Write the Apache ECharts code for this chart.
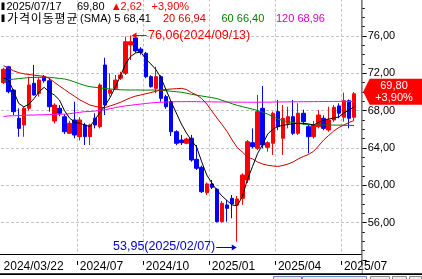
<!DOCTYPE html>
<html>
<head>
<meta charset="utf-8">
<script src="https://cdn.jsdelivr.net/npm/echarts@6/dist/echarts.min.js"></script>
<style>
html,body{margin:0;padding:0;background:#fff;overflow:hidden}
#c{width:422px;height:279px}
</style>
</head>
<body>
<div id="c"></div>
<script>
// Weekly candles (last bar dated 2025/07/17)
const dates = ['2024/03/22','2024/03/29','2024/04/05','2024/04/12','2024/04/19','2024/04/26','2024/05/03','2024/05/10','2024/05/17','2024/05/24',
'2024/05/31','2024/06/07','2024/06/14','2024/06/21','2024/06/28','2024/07/05','2024/07/12','2024/07/19','2024/07/26','2024/08/02',
'2024/08/09','2024/08/16','2024/08/23','2024/08/30','2024/09/06','2024/09/13','2024/09/20','2024/09/27','2024/10/04','2024/10/11',
'2024/10/18','2024/10/25','2024/11/01','2024/11/08','2024/11/15','2024/11/22','2024/11/29','2024/12/06','2024/12/13','2024/12/20',
'2024/12/27','2025/01/03','2025/01/10','2025/01/17','2025/01/24','2025/01/31','2025/02/07','2025/02/14','2025/02/21','2025/02/28',
'2025/03/07','2025/03/14','2025/03/21','2025/03/28','2025/04/04','2025/04/11','2025/04/18','2025/04/25','2025/05/02','2025/05/09',
'2025/05/16','2025/05/23','2025/05/30','2025/06/06','2025/06/13','2025/06/20','2025/06/27','2025/07/04','2025/07/11','2025/07/17'];

const opens = [71.0,72.7,70.2,67.18,66.46,68.25,70.93,69.86,71.64,71.2,
66.89,68.25,67.35,65.57,67.0,65.21,66.46,65.21,67.18,66.28,
72.89,69.86,70.39,71.47,72.0,75.04,75.8,74.6,74.15,71.64,
70.39,71.64,69.5,68.96,65.74,64.85,64.5,65.04,62.78,61.93,
59.2,60.14,59.57,56.1,57.89,58.6,57.89,58.6,60.57,64.56,
63.96,68.25,64.07,64.5,67.89,65.04,66.64,67.35,65.57,67.72,
66.28,65.21,66.28,67.18,65.93,67.0,68.5,67.29,69.07,67.29];

const closes = [72.43,70.03,67.89,66.1,68.25,70.75,69.68,71.28,71.2,68.42,
68.6,67.72,65.74,66.64,65.39,67.0,65.21,66.46,66.46,70.75,
68.6,70.21,71.28,71.82,75.39,75.39,74.4,74.25,71.64,70.57,
71.64,69.32,68.42,65.74,64.5,64.56,64.96,62.71,61.82,59.31,
60.14,59.78,56.1,58.07,57.53,57.99,58.53,61.1,64.67,64.14,
67.89,64.32,64.56,67.72,66.28,67.18,67.35,65.57,67.72,66.82,
65.21,66.46,67.53,66.1,67.0,68.36,67.72,69.07,67.18,69.80];

const lows = [70.85,69.86,67.53,65.2,65.2,68.0,69.6,69.5,71.0,67.89,
66.64,67.4,65.5,65.5,65.04,64.8,64.32,64.32,66.1,66.1,
67.53,69.5,70.2,71.28,71.82,73.43,74.2,74.0,71.47,70.46,
69.86,68.96,68.2,65.28,64.3,64.32,64.4,62.53,61.64,59.17,
58.96,59.6,56.0,56.0,56.1,56.46,53.95,57.9,60.25,63.96,
63.78,63.96,63.6,63.25,65.9,63.25,66.1,65.39,65.39,66.5,
63.43,65.0,66.1,65.9,65.74,66.8,67.18,66.82,66.1,67.0];

const highs = [72.6,72.8,70.3,68.25,68.4,71.64,72.9,71.6,71.82,71.5,
68.79,68.6,67.6,66.9,68.96,67.3,66.7,66.6,67.72,70.93,
73.67,72.0,71.82,72.17,75.93,76.06,76.0,74.8,74.3,71.8,
72.7,71.8,69.7,69.1,65.9,65.39,65.1,65.4,64.32,62.1,
60.3,60.57,59.7,58.3,58.42,58.96,58.85,61.28,64.85,66.1,
69.68,70.64,64.7,67.9,69.14,68.6,68.42,69.14,68.79,68.1,
66.5,66.9,68.07,67.5,68.42,68.6,68.79,69.93,69.2,70.0];

const ma5 = [71.5,71.28,70.05,68.77,68.4,68.7,69.29,70.02,70.5,70.0,
69.68,69.14,68.0,67.2,66.76,66.65,66.47,66.29,67.05,67.82,
68.55,69.43,70.53,71.69,73.0,73.8,74.18,74.3,73.53,73.0,
72.4,71.5,70.23,68.93,67.75,66.57,65.6,64.8,64.1,62.53,
61.1,60.24,59.46,58.85,58.36,57.89,57.8,58.8,60.6,62.0,
63.4,64.37,65.5,66.0,66.3,66.43,66.51,66.61,66.64,66.64,
66.58,66.46,66.73,67.0,67.1,67.21,67.32,67.75,68.07,68.41];

const ma20 = [72.82,72.54,72.27,72.07,71.95,71.87,71.81,71.74,71.68,71.46,
71.04,70.64,70.27,69.89,69.53,69.16,68.88,68.6,68.47,68.34,
68.33,68.5,68.69,68.89,69.14,69.38,69.56,69.68,69.81,69.94,
70.08,70.21,70.27,70.32,70.35,70.39,70.27,69.94,69.68,69.3,
68.71,67.96,67.21,66.51,65.76,64.85,64.05,63.57,63.03,62.82,
62.5,62.28,62.14,62.07,62.02,62.12,62.28,62.5,62.82,63.08,
63.3,63.62,64.21,64.85,65.34,65.82,66.19,66.46,66.73,66.94];

const ma60 = [71.23,71.31,71.38,71.43,71.49,71.54,71.57,71.57,71.57,71.57,
71.52,71.46,71.39,71.26,71.07,70.88,70.7,70.57,70.5,70.43,
70.37,70.32,70.27,70.24,70.22,70.21,70.22,70.21,70.2,70.21,
70.21,70.18,70.14,70.08,70.03,69.97,69.87,69.76,69.66,69.57,
69.48,69.4,69.29,69.11,68.93,68.74,68.57,68.43,68.3,68.16,
68.02,67.83,67.63,67.37,67.1,66.94,66.81,66.72,66.63,66.55,
66.48,66.46,66.46,66.46,66.46,66.45,66.45,66.44,66.42,66.40];

const ma120 = [67.38,67.43,67.45,67.47,67.5,67.52,67.53,67.55,67.56,67.58,
67.6,67.61,67.62,67.67,67.75,67.82,67.89,67.91,67.96,68.03,
68.11,68.21,68.32,68.43,68.51,68.57,68.65,68.7,68.77,68.82,
68.87,68.9,68.93,68.94,68.96,68.96,68.97,68.97,68.96,68.95,
68.95,68.94,68.93,68.93,68.92,68.92,68.91,68.91,68.9,68.9,
68.9,68.91,68.91,68.92,68.93,68.93,68.94,68.95,68.95,68.96,
68.96,68.97,68.97,68.98,68.98,68.99,68.99,69.0,68.98,68.96];

const xTickIdx = [0, 15, 28, 41, 54, 67];
const xTickLabels = ['2024/03/22', '2024/07', '2024/10', '2025/01', '2025/04', '2025/07'];
const maNames = ['5', '20', '60', '120'];
const maColors = ['#000000', '#cc0000', '#008000', '#ff00ff'];
const maTextColors = ['#000000', '#e00000', '#008000', '#d000d0'];
const legendTitle = '가격이동평균';

const FONT = "'Liberation Sans', Arial, sans-serif";
const KFONT = "'Noto Sans CJK KR', sans-serif";
const fmt = v => v.toFixed(2).replace('.', ',');
const N = dates.length;
const cats = dates.concat(['']);
const candle = dates.map((d, i) => [opens[i], closes[i], lows[i], highs[i]]);
const tickSet = new Set(xTickIdx);

const chart = echarts.init(document.getElementById('c'), null, {renderer: 'canvas', width: 422, height: 279});

const mas = [ma5, ma20, ma60, ma120];
const lineSeries = [3, 2, 1, 0].map(k => ({
  type: 'line', data: mas[k], showSymbol: false, symbol: 'none', silent: true,
  lineStyle: {color: maColors[k], width: 1}, itemStyle: {color: maColors[k]}, z: 3
}));

chart.setOption({
  animation: false,
  backgroundColor: '#ffffff',
  grid: {left: 1, right: 60.3, top: -1.3, bottom: 19.1, containLabel: false, outerBoundsMode: 'none'},
  xAxis: {
    type: 'category', data: cats, boundaryGap: true,
    axisLine: {show: false},
    axisTick: {show: true, alignWithLabel: false, interval: (i) => i > 0 && tickSet.has(i), length: 5, lineStyle: {color: '#000'}},
    axisLabel: {show: true, interval: (i) => tickSet.has(i), formatter: (v, i) => xTickLabels[xTickIdx.indexOf(i)],
      align: 'left', margin: 1, color: '#000', fontFamily: FONT, fontSize: 12, hideOverlap: false},
    splitLine: {show: true, interval: (i) => i > 0 && tickSet.has(i), lineStyle: {color: '#c4c4c4', type: [3, 2], width: 1}}
  },
  yAxis: {
    type: 'value', position: 'right', min: 52, max: 80, interval: 4,
    axisLine: {show: true, lineStyle: {color: '#808080'}},
    axisTick: {show: true, length: 5, lineStyle: {color: '#000'}},
    minorTick: {show: true, splitNumber: 4, length: 3, lineStyle: {color: '#000'}},
    axisLabel: {margin: 6, color: '#000', fontFamily: FONT, fontSize: 11, formatter: v => (v <= 52 || v >= 80) ? '' : fmt(v)},
    splitLine: {show: true, showMinLine: false, showMaxLine: false, lineStyle: {color: '#c4c4c4', type: [3, 2], width: 1}}
  },
  series: [{
    type: 'candlestick', data: candle, barWidth: 4, silent: true, z: 2,
    itemStyle: {color: '#ff0000', color0: '#0000ff', borderColor: '#ff0000', borderColor0: '#0000ff', borderWidth: 1}
  }].concat(lineSeries)
});

// overlays positioned through the chart's own scales
const px = (i, v) => chart.convertToPixel({xAxisIndex: 0, yAxisIndex: 0}, [i, v]);
const axisX = 361.7;
const g = [];
const txt = (text, x, y, fill, size, align, family) => ({
  type: 'text', z: 20, silent: true,
  style: {text: text, x: x, y: y, fill: fill, font: size + 'px ' + (family || FONT),
    align: align || 'left', verticalAlign: 'middle', textAlign: align || 'left', textVerticalAlign: 'middle'}
});

g.push({type: 'rect', z: 1, silent: true, shape: {x: 0, y: 254.5, width: axisX - 0.5, height: 6.5}, style: {fill: '#fff'}});
g.push({type: 'line', z: 10, silent: true, shape: {x1: 0, y1: 254.5, x2: axisX, y2: 254.5}, style: {stroke: '#000', lineWidth: 1}});
g.push({type: 'line', z: 10, silent: true, shape: {x1: axisX + 0.5, y1: 0, x2: axisX + 0.5, y2: 274}, style: {stroke: '#808080', lineWidth: 1}});
g.push({type: 'rect', z: 10, silent: true, shape: {x: 0, y: 273.2, width: 422, height: 1.8}, style: {fill: '#000'}});
[[273, 29, '#6b86b8'], [302, 65, '#6b86b8'], [370, 20, '#888'], [392, 15, '#888'], [409, 13, '#888']].forEach(b => {
  g.push({type: 'rect', z: 10, silent: true, shape: {x: b[0] + 0.5, y: 276.5, width: b[1] - 1, height: 4}, style: {fill: '#ececec', stroke: b[2], lineWidth: 1}});
});

// legend lines
const last = closes[N - 1], prev = closes[N - 2];
const chg = last - prev, pct = chg / prev * 100;
g.push({type: 'rect', z: 20, silent: true, shape: {x: 1.5, y: 2.5, width: 3, height: 7.5}, style: {fill: '#000'}});
g.push({type: 'rect', z: 20, silent: true, shape: {x: 1.5, y: 14.5, width: 3, height: 7.5}, style: {fill: '#000'}});
g.push(txt(dates[N - 1], 6.5, 6.5, '#000', 11));
g.push(txt(fmt(last), 77, 6.5, '#000', 11));
g.push({type: 'polygon', z: 20, silent: true, shape: {points: [[113, 10], [119.5, 10], [116.25, 3.5]]}, style: {fill: '#ff0000'}});
g.push(txt(fmt(Math.abs(chg)), 120.5, 6.5, '#ff0000', 11));
g.push(txt('+' + fmt(pct) + '%', 151.5, 6.5, '#ff0000', 11));
Array.from(legendTitle).forEach((ch, k) => {
  g.push(txt(ch, 7 + k * 11.9 + 5.5, 18.5, '#000', 12, 'center', KFONT));
});
g.push(txt('(SMA) ' + maNames[0] + ' ' + fmt(mas[0][N - 1]), 80, 18.5, maTextColors[0], 11));
const legX = [null, 163, 221.5, 276];
for (let k = 1; k < 4; k++) {
  g.push(txt(maNames[k] + ' ' + fmt(mas[k][N - 1]), legX[k], 18.5, maTextColors[k], 11));
}

// max / min annotations
let iMax = 0, iMin = 0;
highs.forEach((h, i) => { if (h > highs[iMax]) iMax = i; });
lows.forEach((l, i) => { if (l < lows[iMin]) iMin = i; });
const pMax = px(iMax, highs[iMax]);
const mx = pMax[0], my = Math.round(pMax[1]) + 0.5;
g.push({type: 'line', z: 20, silent: true, shape: {x1: mx + 2, y1: my, x2: mx + 16, y2: my}, style: {stroke: '#ff0000', lineWidth: 1}});
g.push({type: 'polygon', z: 20, silent: true, shape: {points: [[mx + 1, my], [mx + 6, my - 3], [mx + 6, my + 3]]}, style: {fill: '#ff0000'}});
g.push(txt(fmt(highs[iMax]) + '(' + dates[iMax] + ')', mx + 17.5, my, '#ff0000', 12.5));
const pMin = px(iMin, lows[iMin]);
const nx = pMin[0], ny = Math.round(pMin[1] + 5) + 0.5;
g.push({type: 'line', z: 20, silent: true, shape: {x1: nx - 21, y1: ny, x2: nx - 2, y2: ny}, style: {stroke: '#0000cc', lineWidth: 1}});
g.push({type: 'polygon', z: 20, silent: true, shape: {points: [[nx - 0.5, ny], [nx - 5.5, ny - 3], [nx - 5.5, ny + 3]]}, style: {fill: '#0000cc'}});
g.push(txt(fmt(lows[iMin]) + '(' + dates[iMin] + ')', nx - 22, ny - 0.5, '#0000cc', 12.5, 'right'));

// price tag
const cy = px(N - 1, last)[1] - 2;
g.push({type: 'polygon', z: 20, silent: true, shape: {points: [[axisX + 1.5, cy], [axisX + 8, cy - 13], [422, cy - 13], [422, cy + 13], [axisX + 8, cy + 13]]}, style: {fill: '#ff0000'}});
g.push(txt(fmt(last), 394, cy - 6, '#fff', 11, 'center'));
g.push(txt('+' + fmt(pct) + '%', 394, cy + 6.5, '#fff', 11, 'center'));

chart.setOption({graphic: {elements: g}});
</script>
</body>
</html>
